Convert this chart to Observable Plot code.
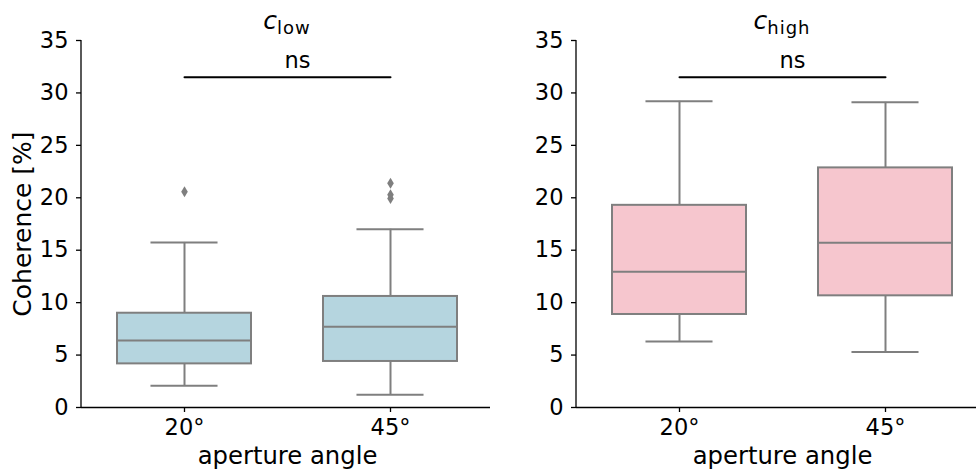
<!DOCTYPE html>
<html>
<head>
<meta charset="utf-8">
<script src="https://cdn.jsdelivr.net/npm/d3@7"></script>
<script src="https://cdn.jsdelivr.net/npm/@observablehq/plot@0.6"></script>
<style>
  html, body { margin: 0; padding: 0; background: white; overflow: hidden; }
  #wrap { position: relative; width: 976px; height: 469px; overflow: hidden; }
  #wrap > div { position: absolute; top: 0; }
  #wrap svg { max-width: none !important; }
</style>
</head>
<body>
<div id="wrap"><div id="left"></div><div id="right"></div></div>
<script>
// ---- data ----
const angles = ["20°", "45°"];
const yTicks = [0, 5, 10, 15, 20, 25, 30, 35];

// c_low panel
const lowWhiskerLo = [2.07, 1.21];
const lowQ1        = [4.16, 4.39];
const lowMedian    = [6.39, 7.69];
const lowQ3        = [8.99, 10.59];
const lowWhiskerHi = [15.74, 17.0];
const lowOutlierAngle = ["20°", "45°", "45°", "45°"];
const lowOutlierValue = [20.57, 21.39, 20.28, 19.93];

// c_high panel
const highWhiskerLo = [6.3, 5.3];
const highQ1        = [8.87, 10.65];
const highMedian    = [12.94, 15.7];
const highQ3        = [19.28, 22.85];
const highWhiskerHi = [29.2, 29.1];
const highOutlierAngle = [];
const highOutlierValue = [];

// significance annotation
const bracketLevel = 31.5;
const bracketLabel = "ns";

const FONT = "DejaVu Sans, Liberation Sans, sans-serif";
const GRAY = "#7f7f7f";
const FS = 22.5;

// thin diamond like matplotlib's 'd' marker
const thinDiamond = {
  draw(context, size) {
    const h = Math.sqrt(size) * 0.62, w = h * 0.6;
    context.moveTo(0, -h); context.lineTo(w, 0); context.lineTo(0, h); context.lineTo(-w, 0); context.closePath();
  }
};

function panel({lo, q1, med, q3, hi, oa, ov, fill, title, sub, ylabel, width, marginLeft, marginRight}) {
  const rows = angles.map((a, i) => ({angle: a, lo: lo[i], q1: q1[i], med: med[i], q3: q3[i], hi: hi[i]}));
  const outliers = oa.map((a, i) => ({angle: a, value: ov[i]}));
  const bracket = [{angle: angles[0], y: bracketLevel}, {angle: angles[1], y: bracketLevel}];
  const height = 469, marginTop = 40, marginBottom = 62;
  const plotW = width - marginLeft - marginRight;
  const step = plotW / 2, bw = step * 0.65;
  const marks = [
    Plot.ruleX(rows, {x: "angle", y1: "lo", y2: "q1", stroke: GRAY, strokeWidth: 2}),
    Plot.ruleX(rows, {x: "angle", y1: "q3", y2: "hi", stroke: GRAY, strokeWidth: 2}),
    Plot.tickY(rows, {x: "angle", y: "lo", stroke: GRAY, strokeWidth: 2, inset: bw / 4}),
    Plot.tickY(rows, {x: "angle", y: "hi", stroke: GRAY, strokeWidth: 2, inset: bw / 4}),
    Plot.barY(rows, {x: "angle", y1: "q1", y2: "q3", fill, stroke: GRAY, strokeWidth: 2}),
    Plot.tickY(rows, {x: "angle", y: "med", stroke: GRAY, strokeWidth: 2}),
    Plot.dot(outliers, {x: "angle", y: "value", symbol: thinDiamond, r: 5, fill: GRAY, stroke: "none"}),
    Plot.line(bracket, {x: "angle", y: "y", stroke: "black", strokeWidth: 2}),
    Plot.text([bracketLabel], {text: d => d, y: bracketLevel, dx: 10, dy: -9, lineAnchor: "bottom", fontSize: FS, fill: "black"}),
    Plot.ruleY([0], {stroke: "black", strokeWidth: 1.3}),
    Plot.axisY({ticks: yTicks, tickSize: 5, tickPadding: 8, label: null, fontSize: FS, strokeWidth: 1.3}),
    Plot.axisX({tickSize: 5, tickPadding: 7, label: null, fontSize: FS, strokeWidth: 1.3}),
    Plot.text(["aperture angle"], {text: d => d, frameAnchor: "bottom", dy: 56, lineAnchor: "bottom", fontSize: 24.3, fill: "black"})
  ];
  if (ylabel) {
    marks.push(Plot.text([ylabel], {text: d => d, frameAnchor: "left", dx: -59, rotate: -90, textAnchor: "middle", fontSize: 25, fill: "black"}));
  }
  const svg = Plot.plot({
    width, height, marginTop, marginBottom, marginLeft, marginRight,
    style: {fontFamily: FONT, fontSize: FS + "px", color: "black", background: "white", overflow: "visible", maxWidth: "none"},
    x: {domain: angles, paddingInner: 0.35, paddingOuter: 0.175, axis: null},
    y: {domain: [0, 35], axis: null},
    marks
  });
  svg.style.maxWidth = "none";
  svg.setAttribute("width", width);
  svg.setAttribute("height", height);
  const s = d3.select(svg);
  // left spine
  s.append("line")
    .attr("x1", marginLeft).attr("x2", marginLeft)
    .attr("y1", marginTop).attr("y2", height - marginBottom)
    .attr("stroke", "black").attr("stroke-width", 1.3);
  // title with subscript
  const t = s.append("text")
    .attr("x", marginLeft + plotW / 2).attr("y", 29)
    .attr("text-anchor", "middle")
    .attr("font-family", FONT).attr("fill", "black");
  t.append("tspan").attr("font-size", 25).attr("font-style", "italic").text(title);
  t.append("tspan").attr("font-size", 18).attr("dy", 5).attr("letter-spacing", 1).text(sub);
  return svg;
}

const left = panel({lo: lowWhiskerLo, q1: lowQ1, med: lowMedian, q3: lowQ3, hi: lowWhiskerHi,
  oa: lowOutlierAngle, ov: lowOutlierValue, fill: "#b5d5df", title: "c", sub: "low",
  ylabel: "Coherence [%]", width: 500, marginLeft: 81, marginRight: 7});
const right = panel({lo: highWhiskerLo, q1: highQ1, med: highMedian, q3: highQ3, hi: highWhiskerHi,
  oa: highOutlierAngle, ov: highOutlierValue, fill: "#f6c6ce", title: "c", sub: "high",
  ylabel: null, width: 498, marginLeft: 86, marginRight: 0});
document.getElementById("left").appendChild(left);
const r = document.getElementById("right");
r.style.left = "490px";
r.appendChild(right);
</script>
</body>
</html>
